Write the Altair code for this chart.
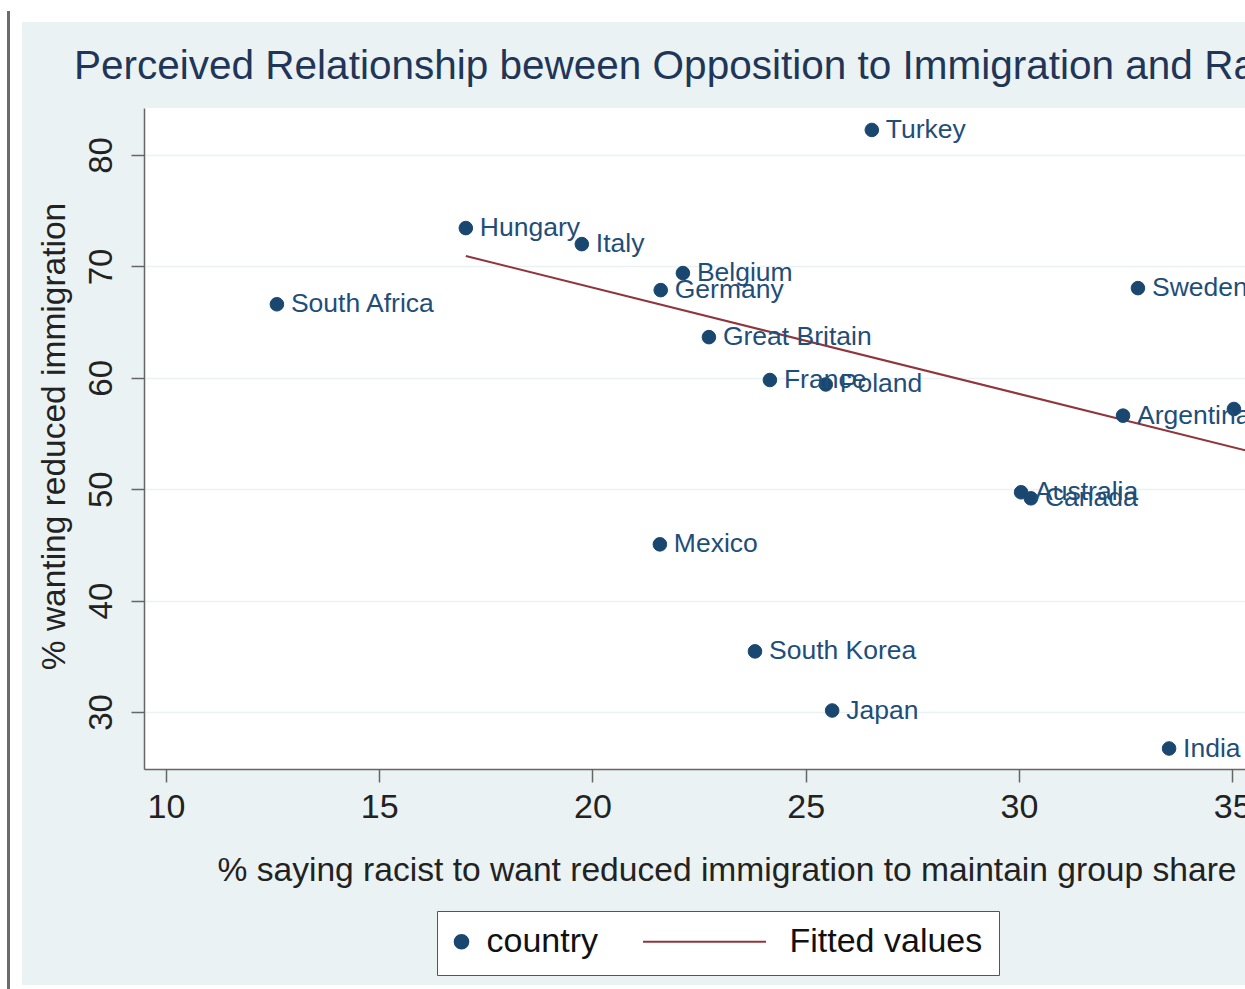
import altair as alt
import pandas as pd

countries = ["Turkey", "Hungary", "Italy", "Belgium", "Germany", "South Africa", "Sweden",
             "Great Britain", "France", "Poland", "Argentina", "United States", "Australia",
             "Canada", "Mexico", "South Korea", "Japan", "India"]
racist_pct = [26.55, 17.03, 19.75, 22.12, 21.60, 12.60, 32.79, 22.73, 24.16, 25.47, 32.44,
              35.04, 30.05, 30.28, 21.58, 23.81, 25.62, 33.52]
reduce_pct = [82.25, 73.44, 72.00, 69.40, 67.87, 66.60, 68.05, 63.65, 59.80, 59.40, 56.60,
              57.20, 49.72, 49.18, 45.05, 35.44, 30.13, 26.72]
fit_x = [17.03, 36.0]
fit_y = [70.93, 52.83]
x_ticks = [10, 15, 20, 25, 30, 35]
y_ticks = [30, 40, 50, 60, 70, 80]
series_names = ["country", "Fitted values"]

NAVY = "#1a476f"
MAROON = "#90353b"
BG = "#eaf2f3"
FONT = "Liberation Sans"

W, H = 1101, 661

pts = pd.DataFrame({"country": countries, "x": racist_pct, "y": reduce_pct, "series": "country"})
fit = pd.DataFrame({"x": fit_x, "y": fit_y, "series": "Fitted values"})

xs = alt.Scale(domain=[9.484, 35.30], nice=False, zero=False)
ys = alt.Scale(domain=[24.88, 84.22], nice=False, zero=False)

x_axis = alt.Axis(values=x_ticks, grid=False, labelFontSize=34, labelFont=FONT, labelColor="#222",
                  labelPadding=8, tickSize=13, tickColor="#666", domainColor="#666", tickWidth=1.5,
                  domainWidth=1.5,
                  title="% saying racist to want reduced immigration to maintain group share",
                  titleFontSize=33.6, titleFont=FONT, titleFontWeight="normal", titleColor="#222",
                  titleAlign="left", titleAnchor="start", titleX=73, titleY=111,
                  titleBaseline="alphabetic")
y_axis = alt.Axis(values=y_ticks, grid=True, gridColor=BG, gridWidth=1.5,
                  labelAngle=270, labelAlign="center", labelBaseline="bottom",
                  labelFontSize=33, labelFont=FONT, labelColor="#222", labelPadding=13,
                  tickSize=13, tickColor="#666", domainColor="#666", tickWidth=1.5, domainWidth=1.5,
                  title="% wanting reduced immigration", titleFontSize=33.5, titleFont=FONT,
                  titleFontWeight="normal", titleColor="#222", titleAngle=270,
                  titleAlign="center", titleX=-80, titleY=328, titleBaseline="alphabetic")

legend = alt.Legend(title=None, orient="none", legendX=293, legendY=803, direction="horizontal",
                    fillColor="white", strokeColor="#555", padding=16, clipHeight=29,
                    symbolOffset=-8.5, labelFontSize=34, labelFont=FONT, labelColor="#111",
                    labelOffset=8, columnPadding=38, symbolStrokeWidth=2, symbolOpacity=1,
                    labelLimit=400)

fill_enc = alt.Fill("series:N", scale=alt.Scale(domain=series_names, range=[NAVY, "transparent"]),
                    legend=legend)
stroke_enc = alt.Stroke("series:N", scale=alt.Scale(domain=series_names, range=[NAVY, MAROON]),
                        legend=legend)
shape_enc = alt.Shape("series:N",
                      scale=alt.Scale(domain=series_names, range=["circle", "M-0.809,0H0.809"]),
                      legend=legend)
size_enc = alt.Size("series:O", scale=alt.Scale(domain=series_names, range=[185, 23104]),
                    legend=legend)

points = alt.Chart(pts).mark_point(filled=True, opacity=1, strokeWidth=1, clip=True).encode(
    x=alt.X("x:Q", scale=xs, axis=x_axis),
    y=alt.Y("y:Q", scale=ys, axis=y_axis),
    fill=fill_enc, stroke=stroke_enc, shape=shape_enc, size=size_enc,
)

labels = alt.Chart(pts).mark_text(align="left", baseline="middle", dx=14, fontSize=26.5,
                                  font=FONT, color="#1f4e79", clip=True).encode(
    x=alt.X("x:Q", scale=xs), y=alt.Y("y:Q", scale=ys), text="country:N")

line = alt.Chart(fit).mark_line(strokeWidth=2, clip=True).encode(
    x=alt.X("x:Q", scale=xs), y=alt.Y("y:Q", scale=ys), stroke=stroke_enc)

one = pd.DataFrame({"a": [0]})
left_strip = alt.Chart(one).mark_rect(color="white").encode(
    x=alt.value(-144), x2=alt.value(-122), y=alt.value(-108), y2=alt.value(881))
top_strip = alt.Chart(one).mark_rect(color="white").encode(
    x=alt.value(-144), x2=alt.value(W), y=alt.value(-108), y2=alt.value(-86))
bottom_strip = alt.Chart(one).mark_rect(color="white").encode(
    x=alt.value(-144), x2=alt.value(W), y=alt.value(877), y2=alt.value(881))
edge_line = alt.Chart(one).mark_rect(color="#6b6b6b").encode(
    x=alt.value(-137), x2=alt.value(-134), y=alt.value(-97), y2=alt.value(881))

chart = alt.layer(line, points, labels, left_strip, top_strip, bottom_strip, edge_line).properties(
    width=W, height=H,
    title=alt.TitleParams("Perceived Relationship beween Opposition to Immigration and Racism",
                          anchor="start", frame="group", dx=-70, offset=-119, baseline="alphabetic",
                          fontSize=40.5, font=FONT, fontWeight="normal", color="#1f3658"),
    autosize=alt.AutoSizeParams(type="none"),
    padding={"left": 144, "top": 108, "right": 0, "bottom": 220},
    background=BG,
).configure_view(fill="white", stroke=None)

chart.save("out.html", embed_options={"renderer": "svg", "actions": False})
